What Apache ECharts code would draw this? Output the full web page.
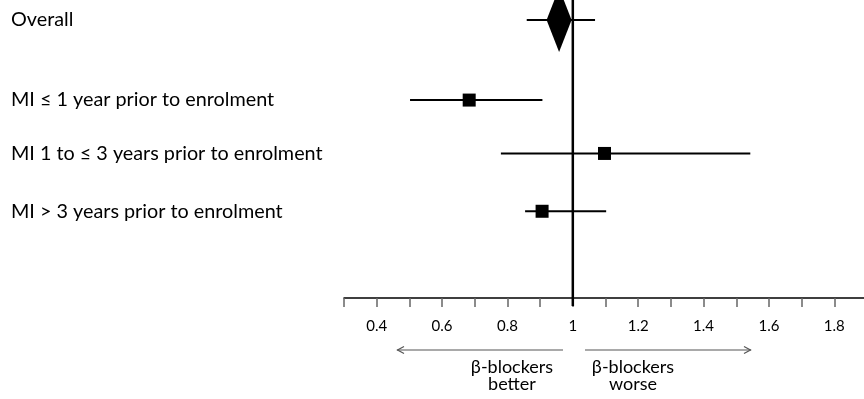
<!DOCTYPE html>
<html>
<head>
<meta charset="utf-8">
<script src="https://cdn.jsdelivr.net/npm/echarts@6/dist/echarts.min.js"></script>
<style>html,body{margin:0;padding:0;background:#fff}#c{width:864px;height:399px}</style>
</head>
<body>
<div id="c"></div>
<script>
// ---- data ----
const labels = ['Overall', 'MI \u2264 1 year prior to enrolment', 'MI 1 to \u2264 3 years prior to enrolment', 'MI > 3 years prior to enrolment'];
const rows = [0, 1.44, 2.40, 3.44];
const estimate = [0.958, 0.683, 1.097, 0.906];
const lower = [0.859, 0.502, 0.780, 0.854];
const upper = [1.068, 0.907, 1.543, 1.102];
const xTicks = [0.3, 1.9, 0.1]; // min, max, interval
const yRange = [-0.36, 5.0];
const noEffect = 1;

const FONT = 'Lato, "Liberation Sans", sans-serif';
const chart = echarts.init(document.getElementById('c'), null, {renderer: 'canvas'});

const ciData = labels.map((l, i) => [lower[i], upper[i], rows[i]]);
const squareData = labels.slice(1).map((l, i) => [estimate[i + 1], rows[i + 1]]);
const diamondData = [[estimate[0], rows[0]]];
const labelData = labels.map((l, i) => [xTicks[0], rows[i], l]);

chart.setOption({
  animation: false,
  grid: {left: 344, top: 0, width: 523, height: 298, outerBoundsMode: 'none', containLabel: false},
  xAxis: {
    type: 'value', min: xTicks[0], max: xTicks[1], interval: xTicks[2],
    axisLine: {show: true, onZero: false, lineStyle: {color: '#000', width: 1.5}},
    axisTick: {show: true, length: 9, lineStyle: {color: '#666', width: 1.5}},
    axisLabel: {
      margin: 21, color: '#000', fontSize: 15, fontFamily: FONT,
      formatter: v => (Math.round(v * 10) % 2 === 0) ? String(+v.toFixed(1)) : ''
    },
    splitLine: {show: false}
  },
  yAxis: {type: 'value', inverse: true, min: yRange[0], max: yRange[1], show: false},
  series: [
    {
      type: 'custom', data: [[noEffect]], clip: false, z: 3,
      renderItem: (params, api) => {
        const a = api.coord([api.value(0), yRange[0]]);
        const b = api.coord([api.value(0), yRange[1]]);
        return {type: 'line', shape: {x1: a[0], y1: a[1], x2: b[0], y2: b[1] + 8},
                style: {stroke: '#000', lineWidth: 2.5}};
      }
    },
    {
      type: 'custom',
      data: ciData,
      renderItem: (params, api) => {
        const a = api.coord([api.value(0), api.value(2)]);
        const b = api.coord([api.value(1), api.value(2)]);
        return {type: 'line', shape: {x1: a[0], y1: a[1], x2: b[0], y2: b[1]},
                style: {stroke: '#000', lineWidth: 2}};
      }
    },
    {
      type: 'scatter', data: squareData, symbol: 'rect', symbolSize: 13,
      itemStyle: {color: '#000', opacity: 1}
    },
    {
      type: 'scatter', data: diamondData, symbol: 'diamond', symbolSize: [25, 64],
      itemStyle: {color: '#000', opacity: 1}
    },
    {
      type: 'custom', data: labelData, clip: false,
      renderItem: (params, api) => {
        const p = api.coord([api.value(0), api.value(1)]);
        return {type: 'text', x: 11, y: p[1],
                style: {text: labelData[params.dataIndex][2], fill: '#000',
                        font: '19.8px ' + FONT, align: 'left', verticalAlign: 'middle'}};
      }
    }
  ],
  graphic: [
    {type: 'line', shape: {x1: 563, y1: 350, x2: 397, y2: 350}, style: {stroke: '#555', lineWidth: 1.2}},
    {type: 'polyline', shape: {points: [[404, 346.5], [397.5, 350], [404, 353.5]]}, style: {stroke: '#555', lineWidth: 1.2, fill: null}},
    {type: 'line', shape: {x1: 585, y1: 350, x2: 751, y2: 350}, style: {stroke: '#555', lineWidth: 1.2}},
    {type: 'polyline', shape: {points: [[744, 346.5], [750.5, 350], [744, 353.5]]}, style: {stroke: '#555', lineWidth: 1.2, fill: null}},
    {type: 'text', x: 512, y: 359, style: {text: '\u03b2-blockers\nbetter', fill: '#000', font: '18px ' + FONT, align: 'center', verticalAlign: 'top', lineHeight: 17}},
    {type: 'text', x: 633, y: 359, style: {text: '\u03b2-blockers\nworse', fill: '#000', font: '18px ' + FONT, align: 'center', verticalAlign: 'top', lineHeight: 17}}
  ]
});
</script>
</body>
</html>
